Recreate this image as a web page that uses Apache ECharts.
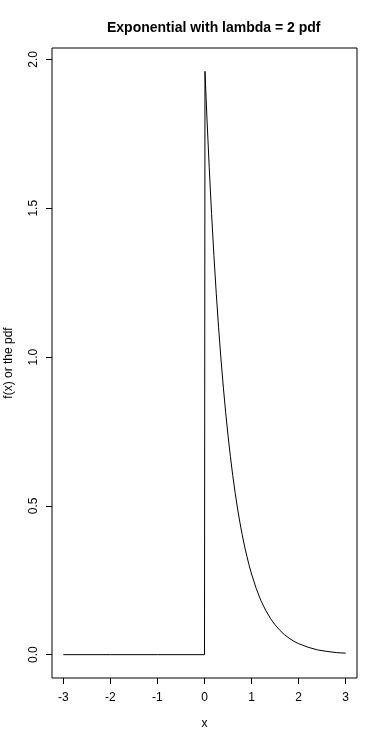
<!DOCTYPE html>
<html>
<head>
<meta charset="utf-8">
<script src="https://cdn.jsdelivr.net/npm/echarts@6/dist/echarts.min.js"></script>
<style>
html,body{margin:0;padding:0;background:#fff;}
#chart{width:379px;height:739px;}
</style>
</head>
<body>
<div id="chart"></div>
<script>
// x positions and f(x) values
const xValues = [-3, -2, -1, 0, 0.01, 0.05, 0.1, 0.15, 0.2, 0.25, 0.3, 0.35, 0.4, 0.45, 0.5,
  0.55, 0.6, 0.65, 0.7, 0.75, 0.8, 0.85, 0.9, 0.95, 1.0, 1.1, 1.2, 1.3, 1.4, 1.5,
  1.6, 1.7, 1.8, 1.9, 2.0, 2.2, 2.4, 2.6, 2.8, 3.0];
const pdfValues = [0, 0, 0, 0, 1.96, 1.81, 1.638, 1.482, 1.341, 1.213, 1.098, 0.993, 0.899, 0.813, 0.736,
  0.666, 0.602, 0.545, 0.493, 0.446, 0.404, 0.365, 0.331, 0.299, 0.271, 0.222, 0.181, 0.149, 0.122, 0.100,
  0.082, 0.067, 0.055, 0.045, 0.037, 0.025, 0.016, 0.011, 0.007, 0.005];
const xTicks = [-3, -2, -1, 0, 1, 2, 3];
const yTicks = [0, 0.5, 1.0, 1.5, 2.0];
const yTickLabels = ['0.0', '0.5', '1.0', '1.5', '2.0'];
const titleText = 'Exponential with lambda = 2 pdf';
const xName = 'x';
const yName = 'f(x) or the pdf';

const points = xValues.map((x, i) => [x, pdfValues[i]]);
const font = 'Liberation Sans, Arial, sans-serif';

const chart = echarts.init(document.getElementById('chart'), null, {renderer: 'canvas'});
chart.setOption({
  animation: false,
  backgroundColor: '#fff',
  title: {
    text: titleText,
    left: 102,
    top: 16,
    textStyle: {fontFamily: font, fontSize: 14, fontWeight: 'bold', color: '#000'}
  },
  grid: {
    left: 52, right: 22, top: 48, bottom: 61,
    outerBoundsMode: 'none',
    containLabel: false,
    show: true, borderColor: '#000', borderWidth: 1, backgroundColor: 'transparent'
  },
  xAxis: {
    type: 'value',
    min: -3.24, max: 3.24,
    name: xName,
    nameLocation: 'middle',
    nameGap: 40,
    nameTextStyle: {fontFamily: font, fontSize: 12, color: '#000'},
    axisLine: {show: false, onZero: false},
    splitLine: {show: false},
    axisTick: {show: true, length: 6, customValues: xTicks, lineStyle: {color: '#000'}},
    axisLabel: {
      customValues: xTicks, margin: 14,
      fontFamily: font, fontSize: 12, color: '#000',
      formatter: v => String(v)
    }
  },
  yAxis: {
    type: 'value',
    min: -0.0784, max: 2.0384,
    name: yName,
    nameLocation: 'middle',
    nameGap: 37,
    nameTextStyle: {fontFamily: font, fontSize: 12, color: '#000'},
    axisLine: {show: false, onZero: false},
    splitLine: {show: false},
    axisTick: {show: true, length: 6, customValues: yTicks, lineStyle: {color: '#000'}},
    axisLabel: {
      customValues: yTicks, margin: 12, rotate: 90,
      fontFamily: font, fontSize: 12, color: '#000',
      formatter: v => yTickLabels[yTicks.indexOf(v)] !== undefined ? yTickLabels[yTicks.indexOf(v)] : v.toFixed(1)
    }
  },
  series: [{
    type: 'line',
    data: points,
    showSymbol: false,
    symbol: 'none',
    lineStyle: {color: '#000', width: 1},
    clip: true
  }]
});
</script>
</body>
</html>
